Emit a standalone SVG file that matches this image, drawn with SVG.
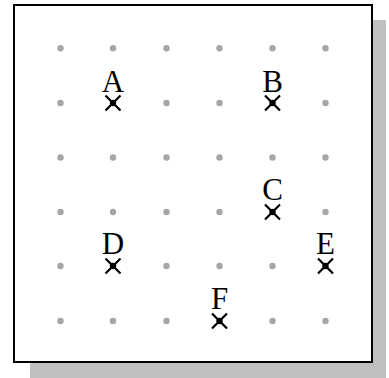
<svg xmlns="http://www.w3.org/2000/svg" width="389" height="378" viewBox="0 0 389 378">
<defs>
<style>
.dot{fill:#a6a6a6}
.lbl{font-family:"Liberation Serif","Times New Roman",serif;font-size:31px;fill:#000;text-anchor:middle}
.x{stroke:#000;stroke-width:2.2;fill:none}
</style>
<g id="cross">
<path class="x" d="M-7.5,-7.5L7.5,7.5M7.5,-7.5L-7.5,7.5"/>
<circle r="3.2" fill="#000"/>
</g>
</defs>
<rect x="0" y="0" width="389" height="378" fill="#fff"/>
<rect x="30" y="20" width="356" height="358" fill="#c0c0c0"/>
<rect x="14" y="5" width="358" height="357" fill="#fff" stroke="#000" stroke-width="2"/>
<g id="grid">
<circle class="dot" cx="60.5" cy="48.3" r="3.2"/><circle class="dot" cx="113" cy="48.3" r="3.2"/><circle class="dot" cx="166.5" cy="48.3" r="3.2"/><circle class="dot" cx="219.5" cy="48.3" r="3.2"/><circle class="dot" cx="272.5" cy="48.3" r="3.2"/><circle class="dot" cx="325.5" cy="48.3" r="3.2"/>
<circle class="dot" cx="60.5" cy="103" r="3.2"/><circle class="dot" cx="166.5" cy="103" r="3.2"/><circle class="dot" cx="219.5" cy="103" r="3.2"/><circle class="dot" cx="325.5" cy="103" r="3.2"/>
<circle class="dot" cx="60.5" cy="157.5" r="3.2"/><circle class="dot" cx="113" cy="157.5" r="3.2"/><circle class="dot" cx="166.5" cy="157.5" r="3.2"/><circle class="dot" cx="219.5" cy="157.5" r="3.2"/><circle class="dot" cx="272.5" cy="157.5" r="3.2"/><circle class="dot" cx="325.5" cy="157.5" r="3.2"/>
<circle class="dot" cx="60.5" cy="212" r="3.2"/><circle class="dot" cx="113" cy="212" r="3.2"/><circle class="dot" cx="166.5" cy="212" r="3.2"/><circle class="dot" cx="219.5" cy="212" r="3.2"/><circle class="dot" cx="325.5" cy="212" r="3.2"/>
<circle class="dot" cx="60.5" cy="266" r="3.2"/><circle class="dot" cx="166.5" cy="266" r="3.2"/><circle class="dot" cx="219.5" cy="266" r="3.2"/><circle class="dot" cx="272.5" cy="266" r="3.2"/>
<circle class="dot" cx="60.5" cy="321" r="3.2"/><circle class="dot" cx="113" cy="321" r="3.2"/><circle class="dot" cx="166.5" cy="321" r="3.2"/><circle class="dot" cx="272.5" cy="321" r="3.2"/><circle class="dot" cx="325.5" cy="321" r="3.2"/>
</g>
<g id="A"><use href="#cross" x="113" y="103"/><text class="lbl" x="113" y="92">A</text></g>
<g id="B"><use href="#cross" x="272.5" y="103"/><text class="lbl" x="272.5" y="92">B</text></g>
<g id="C"><use href="#cross" x="272.5" y="212"/><text class="lbl" x="272.5" y="200">C</text></g>
<g id="D"><use href="#cross" x="113" y="266"/><text class="lbl" x="113" y="254">D</text></g>
<g id="E"><use href="#cross" x="325.5" y="266"/><text class="lbl" x="325.5" y="254">E</text></g>
<g id="F"><use href="#cross" x="219.5" y="321"/><text class="lbl" x="219.5" y="309">F</text></g>
</svg>
